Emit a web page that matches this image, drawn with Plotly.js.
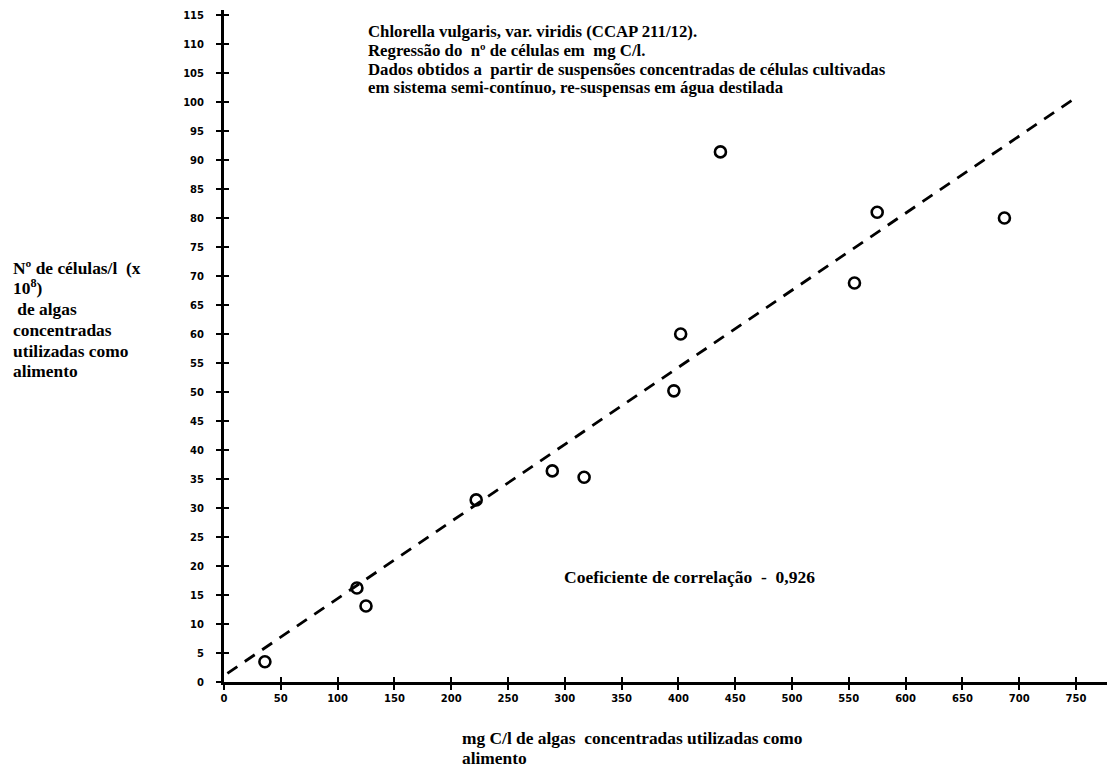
<!DOCTYPE html>
<html>
<head>
<meta charset="utf-8">
<script src="https://cdn.plot.ly/plotly-3.0.1.min.js"></script>
<style>html,body{margin:0;padding:0;background:#fff;}#chart{width:1116px;height:771px;}</style>
</head>
<body>
<div id="chart"></div>
<script>
// Data
const mgC = [36, 117, 125, 222, 289, 317, 396, 402, 437, 555, 575, 687];
const cells = [3.5, 16.2, 13.1, 31.4, 36.4, 35.3, 50.2, 60.0, 91.4, 68.8, 81.0, 80.0];
const regX = [3, 751];
const regY = [1.5, 100.9];
const xTicks = [0, 50, 100, 150, 200, 250, 300, 350, 400, 450, 500, 550, 600, 650, 700, 750];
const yTicks = [0, 5, 10, 15, 20, 25, 30, 35, 40, 45, 50, 55, 60, 65, 70, 75, 80, 85, 90, 95, 100, 105, 110, 115];
const titleLines = [
  "Chlorella vulgaris, var. viridis (CCAP 211/12).",
  "Regressão do  nº de células em  mg C/l.",
  "Dados obtidos a  partir de suspensões concentradas de células cultivadas",
  "em sistema semi-contínuo, re-suspensas em água destilada"
];
const yLabelLines = [
  "Nº de células/l  (x",
  "10<sup>8</sup>)",
  " de algas",
  "concentradas",
  "utilizadas como",
  "alimento"
];
const xLabelLines = [
  "mg C/l de algas  concentradas utilizadas como",
  "alimento"
];
const corrText = "Coeficiente de correlação  -  0,926";

// layout geometry (pixels)
const L = 224, R = 1107, T = 10, B = 682;
const px = x => (x - L) / (R - L);
const py = y => (B - y) / (B - T);

const serifTitle = {family: "Liberation Serif", size: 16.8, color: "#000", weight: "bold"};
const serifCorr = {family: "Liberation Serif", size: 17.5, color: "#000", weight: "bold"};
const serifLabel = {family: "Liberation Serif", size: 17.4, color: "#000", weight: "bold"};
const tickFont = {family: "DejaVu Sans", size: 10, color: "#000", weight: "bold"};

const ann = [];
const tY = [32, 50.5, 69, 87.5];
titleLines.forEach((t, i) => ann.push({text: t, x: px(366), y: py(tY[i]), xref: "paper", yref: "paper", xanchor: "left", yanchor: "middle", showarrow: false, font: serifTitle}));
const lY = [268, 287, 309, 330, 351, 371];
yLabelLines.forEach((t, i) => ann.push({text: t, x: px(11), y: py(lY[i]), xref: "paper", yref: "paper", xanchor: "left", yanchor: "middle", showarrow: false, font: serifLabel}));
const bY = [738, 758];
xLabelLines.forEach((t, i) => ann.push({text: t, x: px(460), y: py(bY[i]), xref: "paper", yref: "paper", xanchor: "left", yanchor: "middle", showarrow: false, font: serifLabel}));
ann.push({text: corrText, x: px(562), y: py(577), xref: "paper", yref: "paper", xanchor: "left", yanchor: "middle", showarrow: false, font: serifCorr});

const xr = [0, (R - L) / 1.136];
const yr = [0, (B - T) / 5.8];

const traces = [
  {x: regX, y: regY, mode: "lines", line: {color: "#000", width: 2.8, dash: "12px,9px"}, hoverinfo: "skip"},
  {x: mgC, y: cells, mode: "markers", marker: {symbol: "circle-open", size: 11, color: "#000", line: {width: 2.6, color: "#000"}}}
];

const layout = {
  width: 1116, height: 771,
  margin: {l: L, r: 1116 - R, t: T, b: 771 - B},
  paper_bgcolor: "#fff", plot_bgcolor: "#fff",
  showlegend: false,
  xaxis: {range: xr, tickvals: xTicks, ticktext: xTicks.map(String), showgrid: false, zeroline: false,
          showline: true, linecolor: "#000", linewidth: 3, ticks: "outside", ticklen: 5, tickwidth: 2, tickcolor: "#000",
          tickfont: tickFont, ticklabelstandoff: 0},
  yaxis: {range: yr, tickvals: yTicks, ticktext: yTicks.map(String), showgrid: false, zeroline: false,
          showline: true, linecolor: "#000", linewidth: 3, ticks: "outside", ticklen: 5, tickwidth: 2, tickcolor: "#000",
          tickfont: tickFont, ticklabelstandoff: 10},
  xaxis2: {range: xr, overlaying: "x", tickvals: xTicks, showticklabels: false, showgrid: false, zeroline: false,
           ticks: "inside", ticklen: 5, tickwidth: 2, tickcolor: "#000", side: "bottom"},
  yaxis2: {range: yr, overlaying: "y", tickvals: yTicks, showticklabels: false, showgrid: false, zeroline: false,
           ticks: "inside", ticklen: 5, tickwidth: 2, tickcolor: "#000", side: "left"},
  annotations: ann
};
traces.push({x: [], y: [], xaxis: "x2", yaxis: "y2", mode: "markers", hoverinfo: "skip"});

Plotly.newPlot("chart", traces, layout, {displayModeBar: false, staticPlot: true});
</script>
</body>
</html>
